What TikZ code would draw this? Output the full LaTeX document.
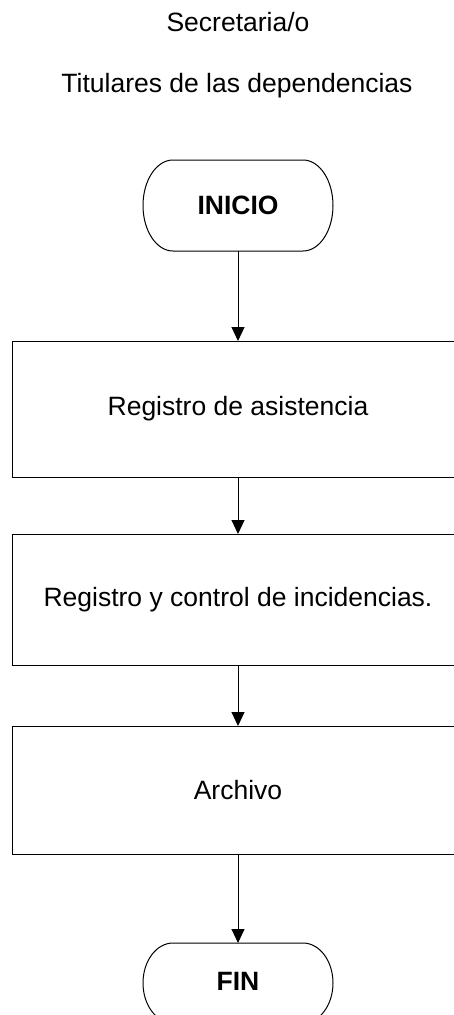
\documentclass[tikz,border=0pt]{standalone}
\usepackage{fontspec}
\setmainfont{Liberation Sans}
\usetikzlibrary{arrows.meta}
\begin{document}
\begin{tikzpicture}[x=1pt,y=-1pt,
  txt/.style={font=\fontsize{26.5}{32}\selectfont, inner sep=0pt},
  btxt/.style={font=\fontsize{26.5}{32}\selectfont\bfseries, inner sep=0pt},
  procbox/.style={draw=none, minimum width=458pt, inner sep=0pt},
  conn/.style={draw, line width=1pt, -{Triangle[width=13pt,length=14pt]}},
  edge/.style={line width=1pt}]
\useasboundingbox (0,0) rectangle (454,1015);
\clip (0,0) rectangle (454,1015);
\fill[white] (0,0) rectangle (454,1015);

% titles
\node[txt, anchor=base] (t1) at (238,31) {Secretaria/o};
\node[txt, anchor=base] (t2) at (237,92) {Titulares de las dependencias};

% terminal INICIO
\node[btxt, minimum width=190pt, minimum height=91pt] (ini) at (238,205.5) {INICIO};
\draw[edge] (173,160) -- (303,160) arc[start angle=-90, end angle=90, x radius=30, y radius=45.5]
  -- (173,251) arc[start angle=90, end angle=270, x radius=30, y radius=45.5] -- cycle;

% process boxes
\node[txt, procbox, minimum height=136pt] (b1) at (241,409) {};
\draw[edge] (12,341) rectangle (470,477);
\node[txt] (l1) at (238,409) {Registro de asistencia};

\node[txt, procbox, minimum height=131pt] (b2) at (241,599.5) {};
\draw[edge] (12,534) rectangle (470,665);
\node[txt] (l2) at (238,599.5) {Registro y control de incidencias.};

\node[txt, procbox, minimum height=128pt] (b3) at (241,790) {};
\draw[edge] (12,726) rectangle (470,854);
\node[txt] (l3) at (238,790) {Archivo};

% terminal FIN
\node[btxt, minimum width=190pt, minimum height=80pt] (fin) at (238,981) {FIN};
\draw[edge] (173,943) -- (303,943) arc[start angle=-90, end angle=90, x radius=30, y radius=40]
  -- (173,1023) arc[start angle=90, end angle=270, x radius=30, y radius=40] -- cycle;

% connectors
\coordinate (i1) at (238,251);
\coordinate (a1) at (238,341);
\coordinate (o1) at (238,477);
\coordinate (a2) at (238,534);
\coordinate (o2) at (238,665);
\coordinate (a3) at (238,726);
\coordinate (o3) at (238,854);
\coordinate (af) at (238,943);
\draw[conn] (i1) -- (a1);
\draw[conn] (o1) -- (a2);
\draw[conn] (o2) -- (a3);
\draw[conn] (o3) -- (af);
\end{tikzpicture}
\end{document}
